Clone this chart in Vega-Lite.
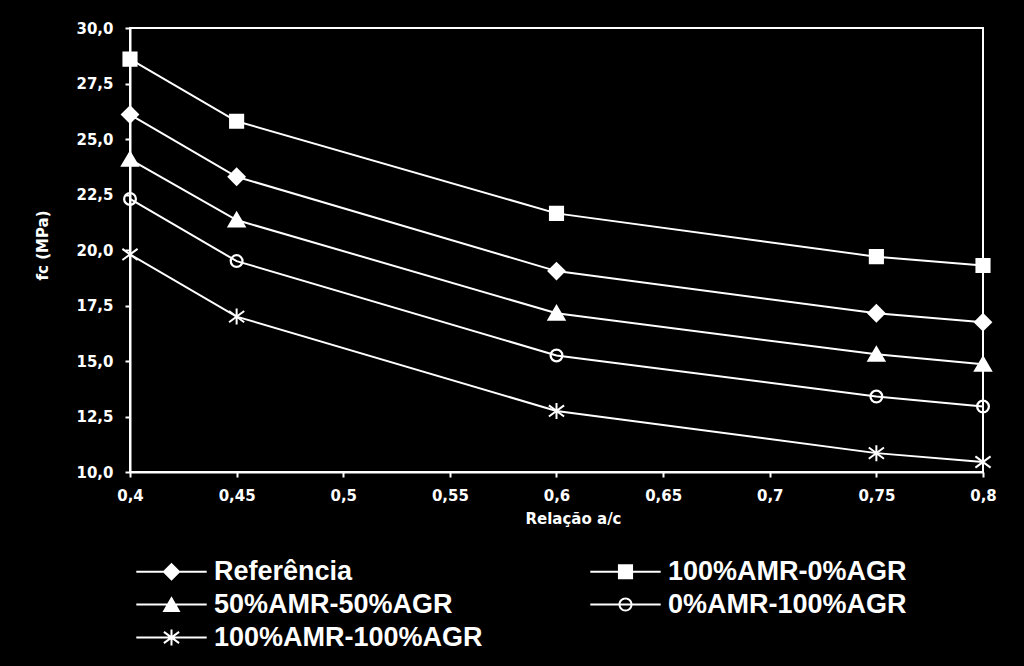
{
  "$schema": "https://vega.github.io/schema/vega-lite/v6.json",
  "autosize": "none",
  "width": 853,
  "height": 444,
  "padding": {"left": 130, "top": 28, "right": 41, "bottom": 194},
  "background": "black",
  "data": {
    "values": [
      {"rel": 0.4, "fc": 26.1, "serie": "Referência"},
      {"rel": 0.45, "fc": 23.3, "serie": "Referência"},
      {"rel": 0.6, "fc": 19.05, "serie": "Referência"},
      {"rel": 0.75, "fc": 17.15, "serie": "Referência"},
      {"rel": 0.8, "fc": 16.75, "serie": "Referência"},
      {"rel": 0.4, "fc": 28.6, "serie": "100%AMR-0%AGR"},
      {"rel": 0.45, "fc": 25.8, "serie": "100%AMR-0%AGR"},
      {"rel": 0.6, "fc": 21.65, "serie": "100%AMR-0%AGR"},
      {"rel": 0.75, "fc": 19.7, "serie": "100%AMR-0%AGR"},
      {"rel": 0.8, "fc": 19.3, "serie": "100%AMR-0%AGR"},
      {"rel": 0.4, "fc": 24.08, "serie": "50%AMR-50%AGR"},
      {"rel": 0.45, "fc": 21.35, "serie": "50%AMR-50%AGR"},
      {"rel": 0.6, "fc": 17.15, "serie": "50%AMR-50%AGR"},
      {"rel": 0.75, "fc": 15.3, "serie": "50%AMR-50%AGR"},
      {"rel": 0.8, "fc": 14.85, "serie": "50%AMR-50%AGR"},
      {"rel": 0.4, "fc": 22.3, "serie": "0%AMR-100%AGR"},
      {"rel": 0.45, "fc": 19.5, "serie": "0%AMR-100%AGR"},
      {"rel": 0.6, "fc": 15.25, "serie": "0%AMR-100%AGR"},
      {"rel": 0.75, "fc": 13.4, "serie": "0%AMR-100%AGR"},
      {"rel": 0.8, "fc": 12.95, "serie": "0%AMR-100%AGR"},
      {"rel": 0.4, "fc": 19.8, "serie": "100%AMR-100%AGR"},
      {"rel": 0.45, "fc": 17.0, "serie": "100%AMR-100%AGR"},
      {"rel": 0.6, "fc": 12.75, "serie": "100%AMR-100%AGR"},
      {"rel": 0.75, "fc": 10.85, "serie": "100%AMR-100%AGR"},
      {"rel": 0.8, "fc": 10.45, "serie": "100%AMR-100%AGR"}
    ]
  },
  "encoding": {
    "x": {
      "field": "rel",
      "type": "quantitative",
      "scale": {"domain": [0.4, 0.8], "nice": false, "zero": false},
      "axis": {
        "values": [0.4, 0.45, 0.5, 0.55, 0.6, 0.65, 0.7, 0.75, 0.8],
        "labelExpr": "replace(format(datum.value, '~g'), '.', ',')",
        "title": "Relação a/c",
        "titleX": 443,
        "titleY": 46,
        "titleBaseline": "middle",
        "titleAlign": "center",
        "labelPadding": 11,
        "labelFlush": false
      }
    },
    "y": {
      "field": "fc",
      "type": "quantitative",
      "scale": {"domain": [10, 30], "nice": false, "zero": false},
      "axis": {
        "values": [10, 12.5, 15, 17.5, 20, 22.5, 25, 27.5, 30],
        "labelExpr": "replace(format(datum.value, '.1f'), '.', ',')",
        "title": "fc (MPa)",
        "titleX": -88,
        "titleY": 217,
        "titleAngle": 270,
        "titleBaseline": "middle",
        "titleAlign": "center",
        "labelPadding": 12,
        "labelFlush": false
      }
    }
  },
  "layer": [
    {
      "mark": {"type": "line", "color": "white", "strokeWidth": 2},
      "encoding": {"detail": {"field": "serie"}}
    },
    {
      "mark": {"type": "point", "filled": true, "fill": "white", "stroke": "white", "strokeWidth": 2, "size": 256, "opacity": 1},
      "encoding": {
        "shape": {
          "field": "serie",
          "type": "nominal",
          "scale": {
            "domain": ["Referência", "100%AMR-0%AGR", "50%AMR-50%AGR", "0%AMR-100%AGR", "100%AMR-100%AGR"],
            "range": [
              "M0,-1L1,0L0,1L-1,0Z",
              "M-0.82,-0.82H0.82V0.82H-0.82Z",
              "M0,-0.9L1,0.8L-1,0.8Z",
              "M0.75,0A0.75,0.75 0 1,1 -0.75,0A0.75,0.75 0 1,1 0.75,0ZM0.72,0A0.72,0.72 0 1,0 -0.72,0A0.72,0.72 0 1,0 0.72,0Z",
              "M0,-1V1M-0.95,-0.7L0.95,0.7M-0.95,0.7L0.95,-0.7"
            ]
          },
          "legend": null
        }
      }
    },
    {
      "mark": {"type": "point", "filled": true, "fill": "white", "strokeWidth": 0, "size": 256, "opacity": 0},
      "encoding": {
        "shape": {
          "field": "serie",
          "type": "nominal",
          "scale": {
            "domain": ["Referência", "50%AMR-50%AGR", "100%AMR-100%AGR", "100%AMR-0%AGR", "0%AMR-100%AGR"],
            "range": [
              "M0,-1.125L1.125,0L0,1.125L-1.125,0ZM-4.4,-0.125H4.4V0.125H-4.4Z",
              "M0,-1.03L1.13,0.93L-1.13,0.93ZM-4.4,-0.125H4.4V0.125H-4.4Z",
              "M-0.125,-1H0.125V1H-0.125ZM-1.024,-0.599L-0.876,-0.801L1.024,0.599L0.876,0.801ZM-0.876,0.801L-1.024,0.599L0.876,-0.801L1.024,-0.599ZM-4.4,-0.125H4.4V0.125H-4.4Z",
              "M-0.945,-0.945H0.945V0.945H-0.945ZM-4.4,-0.125H4.4V0.125H-4.4Z",
              "M0.875,0A0.875,0.875 0 1,1 -0.875,0A0.875,0.875 0 1,1 0.875,0ZM0.63,0A0.63,0.63 0 1,0 -0.63,0A0.63,0.63 0 1,0 0.63,0ZM-4.4,-0.125H4.4V0.125H-4.4Z"
            ]
          },
          "legend": {
            "orient": "none",
            "legendX": 28,
            "legendY": 530,
            "columns": 2,
            "columnPadding": 107,
            "rowPadding": 5,
            "title": null,
            "padding": 0,
            "symbolSize": 256,
            "symbolOpacity": 1,
            "symbolFillColor": "white",
            "symbolStrokeColor": "white",
            "symbolStrokeWidth": 0,
            "labelOffset": 29,
            "labelFont": "Liberation Sans",
            "labelFontSize": 27,
            "labelFontWeight": "bold",
            "labelColor": "white",
            "labelLimit": 500
          }
        }
      }
    }
  ],
  "resolve": {"scale": {"shape": "independent"}, "legend": {"shape": "independent"}},
  "config": {
    "view": {"stroke": "white", "strokeWidth": 2, "fill": "black"},
    "axis": {
      "domainColor": "white",
      "domainWidth": 2,
      "tickColor": "white",
      "tickWidth": 2,
      "tickSize": 5,
      "grid": false,
      "labelColor": "white",
      "labelFont": "DejaVu Sans",
      "labelFontWeight": "bold",
      "labelFontSize": 15,
      "titleColor": "white",
      "titleFont": "DejaVu Sans",
      "titleFontWeight": "bold",
      "titleFontSize": 15
    }
  }
}
